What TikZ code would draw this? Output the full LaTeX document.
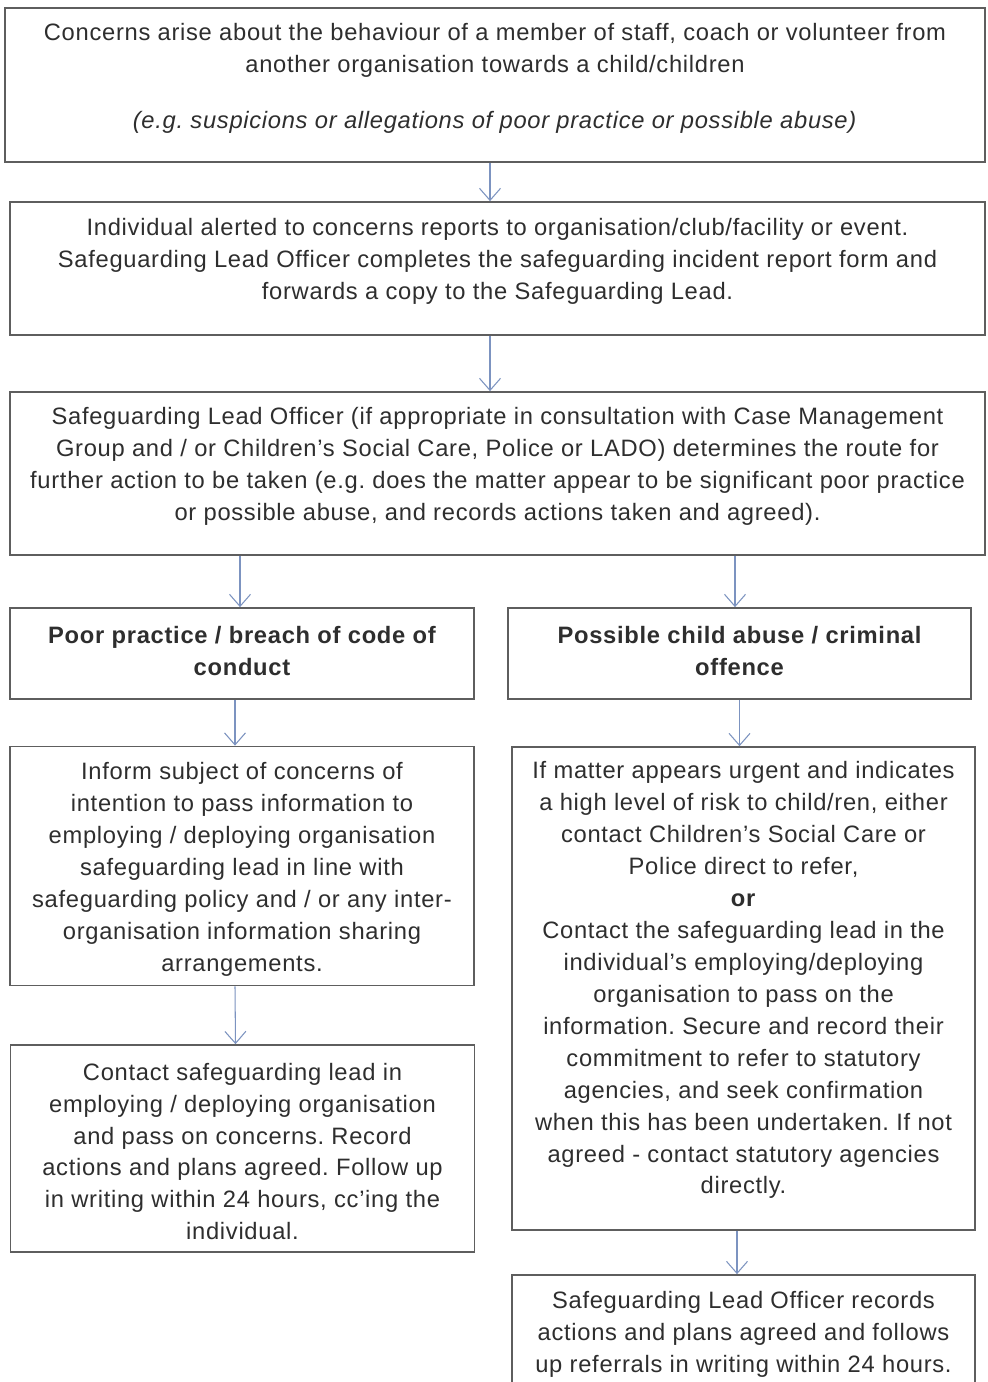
\documentclass[tikz,border=0pt]{standalone}
\usepackage{fontspec}
\setmainfont{Liberation Sans}[LetterSpace=3]
\usetikzlibrary{arrows.meta}
\definecolor{boxline}{HTML}{5E5E5E}
\definecolor{arrowblue}{HTML}{7C93C0}
\definecolor{textgrey}{HTML}{2E2E2E}
\frenchspacing

\begin{document}
\begin{tikzpicture}[x=0.02cm, y=-0.02cm,
    box/.style={draw=boxline, line width=1pt, fill=white, inner sep=0pt},
    txt/.style={align=center, text=textgrey, inner sep=0pt, font=\fontsize{13.5}{18.2}\selectfont},
    boldtxt/.style={txt, font=\fontsize{13.5}{18.2}\selectfont\bfseries},
    flow/.style={draw=arrowblue, line width=0.6pt, -{Straight Barb[length=0.24cm, width=0.42cm]}}]
    \useasboundingbox (0,0) rectangle (987,1382);
    \fill[white] (0,0) rectangle (987,1382);
    \node[box, minimum width=19.6cm, minimum height=3.08cm] (concerns) at (495,85) {};
    \node[txt] (concernstxt) at (495,78.5)
      {Concerns arise about the behaviour of a member of staff, coach or volunteer from\\
       another organisation towards a child/children\\[13.5pt]
       \textit{(e.g. suspicions or allegations of poor practice or possible abuse)}};
    \node[box, minimum width=19.5cm, minimum height=2.66cm] (alerted) at (497.5,268.5) {};
    \node[txt] (alertedtxt) at (497.5,261.5)
      {Individual alerted to concerns reports to organisation/club/facility or event.\\
       Safeguarding Lead Officer completes the safeguarding incident report form and\\
       forwards a copy to the Safeguarding Lead.};
    \node[box, minimum width=19.5cm, minimum height=3.26cm] (route) at (497.5,473.5) {};
    \node[txt] (routetxt) at (497.5,466.5)
      {Safeguarding Lead Officer (if appropriate in consultation with Case Management\\
       Group and / or Children's Social Care, Police or LADO) determines the route for\\
       further action to be taken (e.g. does the matter appear to be significant poor practice\\
       or possible abuse, and records actions taken and agreed).};
    \node[box, minimum width=9.28cm, minimum height=1.82cm] (poor) at (242,653.5) {};
    \node[boldtxt] (poortxt) at (242,651)
      {Poor practice / breach of code of\\conduct};
    \node[box, minimum width=9.26cm, minimum height=1.82cm] (abuse) at (739.5,653.5) {};
    \node[boldtxt] (abusetxt) at (739.5,651)
      {Possible child abuse / criminal\\offence};
    \node[box, minimum width=9.28cm, minimum height=4.78cm] (inform) at (242,866) {};
    \node[txt] (informtxt) at (242,869)
      {Inform subject of concerns of\\
       intention to pass information to\\
       employing / deploying organisation\\
       safeguarding lead in line with\\
       safeguarding policy and / or any inter-\\
       organisation information sharing\\
       arrangements.};
    \node[box, minimum width=9.26cm, minimum height=9.66cm] (urgent) at (743.5,988.5) {};
    \node[txt] (urgenttxt) at (743.5,980)
      {If matter appears urgent and indicates\\
       a high level of risk to child/ren, either\\
       contact Children's Social Care or\\
       Police direct to refer,\\
       \textbf{or}\\
       Contact the safeguarding lead in the\\
       individual's employing/deploying\\
       organisation to pass on the\\
       information. Secure and record their\\
       commitment to refer to statutory\\
       agencies, and seek confirmation\\
       when this has been undertaken. If not\\
       agreed - contact statutory agencies\\
       directly.};
    \node[box, minimum width=9.28cm, minimum height=4.14cm] (contact) at (242.5,1148.5) {};
    \node[txt] (contacttxt) at (242.5,1151.5)
      {Contact safeguarding lead in\\
       employing / deploying organisation\\
       and pass on concerns. Record\\
       actions and plans agreed. Follow up\\
       in writing within 24 hours, cc'ing the\\
       individual.};
    \node[box, minimum width=9.26cm, minimum height=2.8cm] (records) at (743.5,1345) {};
    \node[txt] (recordstxt) at (743.5,1334)
      {Safeguarding Lead Officer records\\
       actions and plans agreed and follows\\
       up referrals in writing within 24 hours.};
    \draw[flow] ([xshift=-0.1cm]concerns.south) -- ([xshift=-0.1cm]concerns.south |- alerted.north);
    \draw[flow] ([xshift=-0.1cm]alerted.south -| concerns.south) -- ([xshift=-0.1cm]route.north -| concerns.south);
    \draw[flow] ([xshift=-0.04cm]route.south -| poor.north) -- ([xshift=-0.04cm]poor.north);
    \draw[flow] ([xshift=-0.09cm]route.south -| abuse.north) -- ([xshift=-0.09cm]abuse.north);
    \draw[flow] ([xshift=-0.14cm]poor.south) -- ([xshift=-0.14cm]inform.north);
    \draw[flow] (abuse.south) -- (abuse.south |- urgent.north);
    \draw[flow] ([xshift=-0.14cm]inform.south) -- ([xshift=-0.14cm]contact.north);
    \draw[flow] ([xshift=-0.13cm]urgent.south) -- ([xshift=-0.13cm]records.north);
  \end{tikzpicture}
\end{document}
